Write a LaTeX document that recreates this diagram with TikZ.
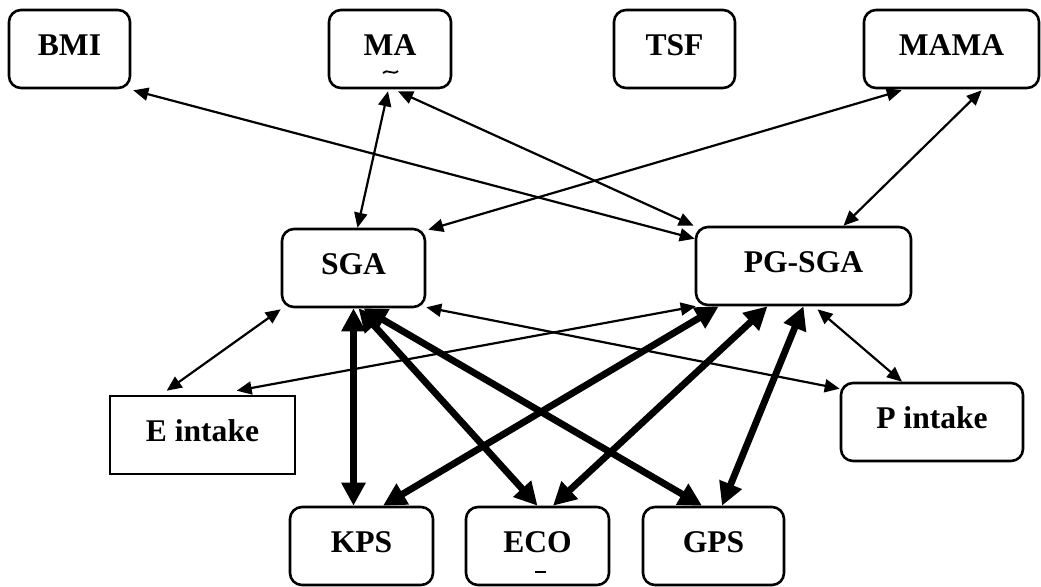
\documentclass[tikz,border=0pt]{standalone}
\usepackage{fontspec}
\setmainfont{Liberation Serif}
\usetikzlibrary{arrows.meta}
\tikzset{
  box/.style={draw, line width=1.3pt, rounded corners=6pt, minimum height=39pt,
    inner sep=0pt, font=\fontsize{15.8}{18}\selectfont\bfseries,
    text height=12pt, text depth=6pt},
  sqbox/.style={box, rounded corners=0pt},
  thinarrow/.style={{Triangle[length=7.5pt,width=6.5pt]}-{Triangle[length=7.5pt,width=6.5pt]}, line width=1.1pt},
  thickarrow/.style={{Triangle[length=11.5pt,width=11.5pt]}-{Triangle[length=11.5pt,width=11.5pt]}, line width=3.4pt},
  straymark/.style={line width=0.9pt}
}
\begin{document}
\begin{tikzpicture}[x=0.5pt,y=-0.5pt]
\useasboundingbox (0,0) rectangle (1041,586);
% top row
\node[box, minimum width=60.5pt] (BMI) at (69.5,49) {BMI};
\node[box, minimum width=61pt] (MA) at (390,49) {MA};
\node[box, minimum width=60.5pt] (TSF) at (674.5,49) {TSF};
\node[box, minimum width=87.5pt] (MAMA) at (951.5,49) {MAMA};
\draw[straymark] (383,73) .. controls (387,68) and (393,76) .. (398,71);
% middle
\node[box, minimum width=71.5pt] (SGA) at (353.5,268) {SGA};
\node[box, minimum width=107.5pt] (PG) at (803.5,266) {PG-SGA};
\node[sqbox, minimum width=92.5pt] (Ein) at (202.5,435) {E intake};
\node[box, minimum width=91pt] (Pin) at (932,422) {P intake};
% bottom
\node[box, minimum width=71.5pt] (KPS) at (361.5,546) {KPS};
\node[box, minimum width=71.5pt] (ECO) at (537.5,546) {ECO};
\node[box, minimum width=70.5pt] (GPS) at (713.5,546) {GPS};
\draw[straymark] (535,572) -- (546,572);
% thin connectors
\draw[thinarrow] ([shift={(2,1)}]BMI.south east) -- ([shift={(0,13)}]PG.north west);
\draw[thinarrow] ([shift={(-2,2)}]MA.south) -- ([shift={(4,0)}]SGA.north);
\draw[thinarrow] ([shift={(8,2)}]MA.south) -- ([shift={(-1,0)}]PG.north west);
\draw[thinarrow] ([shift={(39,1)}]MAMA.south west) -- ([shift={(2,2)}]SGA.north east);
\draw[thinarrow] ([shift={(119,1)}]MAMA.south west) -- ([shift={(40,0)}]PG.north);
\draw[thinarrow] ([shift={(0,1)}]SGA.south west) -- ([shift={(58,-4)}]Ein.north west);
\draw[thinarrow] ([shift={(128,-4)}]Ein.north west) -- ([shift={(1,0)}]PG.south west);
\draw[thinarrow] ([shift={(0,-1)}]SGA.south east) -- ([shift={(0,7)}]Pin.north west);
\draw[thinarrow] ([shift={(14,3)}]PG.south) -- ([shift={(-30,0)}]Pin.north);
% thick connectors
\draw[thickarrow] (SGA.south) -- ([shift={(-8,0)}]KPS.north);
\draw[thickarrow] ([shift={(5,0)}]SGA.south) -- (ECO.north);
\draw[thickarrow] ([shift={(10,0)}]SGA.south) -- ([shift={(-11.5,0)}]GPS.north);
\draw[thickarrow] ([shift={(24,0)}]PG.south west) -- ([shift={(21.5,0)}]KPS.north);
\draw[thickarrow] ([shift={(-36,0)}]PG.south) -- ([shift={(15.5,0)}]ECO.north);
\draw[thickarrow] (PG.south) -- ([shift={(8.5,0)}]GPS.north);
\end{tikzpicture}
\end{document}
